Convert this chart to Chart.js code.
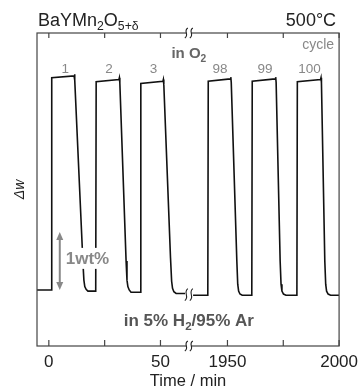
<!DOCTYPE html>
<html>
<head>
<meta charset="utf-8">
<script src="https://cdn.jsdelivr.net/npm/chart.js@4"></script>
<style>
html, body { margin: 0; padding: 0; background: #fff; }
</style>
</head>
<body>
<canvas id="tgaChart" width="364" height="391"></canvas>
<script>
// Redox cycling of BaYMn2O5+d at 500 C, broken time axis
const FONT = '"Liberation Sans", Arial, Helvetica, sans-serif';

// first part of the run (cycles 1-3), time in min, weight change in wt%
const timeA = [-5.3, 1.1, 1.3, 11.3, 11.5, 11.7, 15.3, 15.7, 16.1, 16.7, 17.5, 21.0,
               21.2, 31.4, 31.6, 31.8, 34.6, 35.0, 35.4, 36.0, 36.8, 41.0,
               41.2, 51.1, 51.3, 51.5, 54.5, 55.0, 55.4, 56.0, 57.0, 61.0];
const wtA = [0.00, 0.00, 3.66, 3.69, 3.72, 3.62, 0.45, 0.17, 0.06, 0.01, -0.02, -0.02,
             3.59, 3.63, 3.66, 3.57, 0.50, 0.17, 0.06, 0.00, -0.04, -0.04,
             3.56, 3.60, 3.63, 3.54, 0.55, 0.15, 0.03, -0.03, -0.06, -0.06];

// last part of the run (cycles 98-100)
const timeB = [1934.6, 1941.2, 1941.4, 1951.3, 1951.5, 1951.7, 1954.2, 1954.6, 1955.0, 1955.6, 1956.6, 1960.9,
               1961.1, 1971.4, 1971.6, 1971.8, 1973.6, 1974.0, 1974.4, 1975.1, 1976.2, 1981.1,
               1981.3, 1991.7, 1991.9, 1992.1, 1993.6, 1994.0, 1994.4, 1995.1, 1996.2, 2000.0];
const wtB = [-0.09, -0.09, 3.60, 3.64, 3.67, 3.58, 0.50, 0.10, -0.02, -0.07, -0.09, -0.09,
             3.60, 3.64, 3.67, 3.58, 0.50, 0.10, -0.02, -0.07, -0.09, -0.09,
             3.59, 3.63, 3.66, 3.57, 0.50, 0.10, -0.02, -0.07, -0.09, -0.09];

const cycleNames = ['1', '2', '3', '98', '99', '100'];
const cycleTimes = [7.4, 27.0, 46.9, 1946.7, 1966.8, 1986.7];

const tickTimes = [0, 25, 50, 1950, 1975, 2000];
const tickLabels = ['0', '', '50', '1950', '', '2000'];

// the gap 62.7 .. 1932.7 min is cut out of the axis
const CUT = 1870;
const BREAK = 62.7;
function toAxis(t) {
    return t > 1000 ? t - CUT : t;
}

function drawRich(ctx, parts, x, y, align, size, weight, color) {
    const fontFor = p => `${weight} ${p.sub ? size * 0.68 : size}px ${FONT}`;
    let w = 0;
    parts.forEach(p => { ctx.font = fontFor(p); w += ctx.measureText(p.t).width; });
    let cx = align === 'center' ? x - w / 2 : align === 'right' ? x - w : x;
    ctx.fillStyle = color;
    ctx.textAlign = 'left';
    ctx.textBaseline = 'alphabetic';
    parts.forEach(p => {
        ctx.font = fontFor(p);
        ctx.fillText(p.t, cx, y + (p.sub ? size * 0.24 : 0));
        cx += ctx.measureText(p.t).width;
    });
    return w;
}

function squiggle(ctx, cx, cy, h) {
    ctx.beginPath();
    ctx.moveTo(cx + 1.5, cy - h / 2);
    ctx.bezierCurveTo(cx - 3.5, cy - h / 6, cx + 3.5, cy + h / 6, cx - 1.5, cy + h / 2);
    ctx.stroke();
}

function line(ctx, x1, y1, x2, y2) {
    ctx.beginPath();
    ctx.moveTo(x1, y1);
    ctx.lineTo(x2, y2);
    ctx.stroke();
}

const framePlugin = {
    id: 'frame',
    afterDraw(chart) {
        const { ctx, chartArea: a, scales: { x, y } } = chart;
        ctx.save();

        // frame and inward ticks
        ctx.strokeStyle = '#444';
        ctx.lineWidth = 1.2;
        ctx.strokeRect(a.left, a.top, a.right - a.left, a.bottom - a.top);
        x.ticks.forEach(tk => {
            const px = x.getPixelForValue(tk.value);
            line(ctx, px, a.top, px, a.top + 5);
            line(ctx, px, a.bottom, px, a.bottom - 6);
        });

        // axis breaks
        const bx = x.getPixelForValue(BREAK);
        ctx.fillStyle = '#fff';
        ctx.fillRect(bx - 2.5, a.top - 2, 5, 4);
        ctx.fillRect(bx - 2.5, a.bottom - 2, 5, 4);
        ctx.strokeStyle = '#222';
        ctx.lineWidth = 1.1;
        [a.top, a.bottom].forEach(yy => {
            squiggle(ctx, bx - 2.5, yy, 10);
            squiggle(ctx, bx + 2.5, yy, 10);
        });
        const by = y.getPixelForValue(-0.08);
        squiggle(ctx, bx - 2.5, by, 12);
        squiggle(ctx, bx + 2.5, by, 12);

        // scale bar 1 wt%, its label masks the curve behind it
        const ax = x.getPixelForValue(toAxis(4.9));
        const y1 = y.getPixelForValue(1.0), y0 = y.getPixelForValue(0);
        const ly = y.getPixelForValue(0.45);
        ctx.font = `bold 17px ${FONT}`;
        const lw = ctx.measureText('1wt%').width;
        ctx.fillStyle = '#fff';
        ctx.fillRect(ax + 5, ly - 16, lw + 3, 21);
        ctx.strokeStyle = '#888';
        ctx.fillStyle = '#888';
        ctx.lineWidth = 2;
        line(ctx, ax, y1 + 6, ax, y0 - 6);
        ctx.beginPath();
        ctx.moveTo(ax, y1); ctx.lineTo(ax - 3.5, y1 + 8); ctx.lineTo(ax + 3.5, y1 + 8); ctx.closePath();
        ctx.fill();
        ctx.beginPath();
        ctx.moveTo(ax, y0); ctx.lineTo(ax - 3.5, y0 - 8); ctx.lineTo(ax + 3.5, y0 - 8); ctx.closePath();
        ctx.fill();
        drawRich(ctx, [{ t: '1wt%' }], ax + 6, ly, 'left', 17, 'bold', '#888');

        // cycle numbers
        cycleNames.forEach((n, i) => {
            drawRich(ctx, [{ t: n }], x.getPixelForValue(toAxis(cycleTimes[i])), y.getPixelForValue(3.74), 'center', 13.5, 'normal', '#888');
        });
        drawRich(ctx, [{ t: 'cycle' }], a.right - 5, a.top + 16, 'right', 14, 'normal', '#888');

        // atmosphere labels
        drawRich(ctx, [{ t: 'in O' }, { t: '2', sub: true }], bx, a.top + 25, 'center', 15, 'bold', '#666');
        drawRich(ctx, [{ t: 'in 5% H' }, { t: '2', sub: true }, { t: '/95% Ar' }], bx, a.bottom - 20, 'center', 17, 'bold', '#555');

        // compound and temperature above the frame
        drawRich(ctx, [{ t: 'BaYMn' }, { t: '2', sub: true }, { t: 'O' }, { t: '5+δ', sub: true }], a.left + 1, a.top - 7, 'left', 18, 'normal', '#222');
        drawRich(ctx, [{ t: '500°C' }], a.right - 3, a.top - 7, 'right', 18, 'normal', '#222');

        ctx.restore();
    }
};

const seriesStyle = {
    borderColor: '#111',
    borderWidth: 1.6,
    pointRadius: 0,
    tension: 0,
    fill: false
};

new Chart(document.getElementById('tgaChart'), {
    type: 'line',
    data: {
        datasets: [
            Object.assign({ label: 'cycles 1-3', data: timeA.map((t, i) => ({ x: toAxis(t), y: wtA[i] })) }, seriesStyle),
            Object.assign({ label: 'cycles 98-100', data: timeB.map((t, i) => ({ x: toAxis(t), y: wtB[i] })) }, seriesStyle)
        ]
    },
    options: {
        responsive: false,
        animation: false,
        layout: { padding: { top: 33, right: 23, left: 0, bottom: 0 } },
        plugins: {
            legend: { display: false },
            tooltip: { enabled: false }
        },
        scales: {
            x: {
                type: 'linear',
                min: toAxis(-5.3),
                max: toAxis(2000),
                afterBuildTicks: scale => {
                    scale.ticks = tickTimes.map(t => ({ value: toAxis(t) }));
                },
                afterFit: scale => { scale.height = 45; },
                ticks: {
                    autoSkip: false,
                    maxRotation: 0,
                    padding: 6,
                    color: '#222',
                    font: { family: FONT, size: 17 },
                    callback: (value, index) => tickLabels[index]
                },
                grid: { display: false, drawTicks: false },
                border: { display: false },
                title: {
                    display: true,
                    text: 'Time / min',
                    color: '#222',
                    font: { family: FONT, size: 16.5 },
                    padding: { top: 0, bottom: 0 }
                }
            },
            y: {
                min: -0.966,
                max: 4.431,
                afterFit: scale => { scale.width = 37; },
                ticks: { display: false },
                grid: { display: false, drawTicks: false },
                border: { display: false },
                title: {
                    display: true,
                    text: 'Δw',
                    color: '#222',
                    font: { family: FONT, size: 14, style: 'italic' },
                    padding: { top: 12, bottom: 0 }
                }
            }
        }
    },
    plugins: [framePlugin]
});
</script>
</body>
</html>
